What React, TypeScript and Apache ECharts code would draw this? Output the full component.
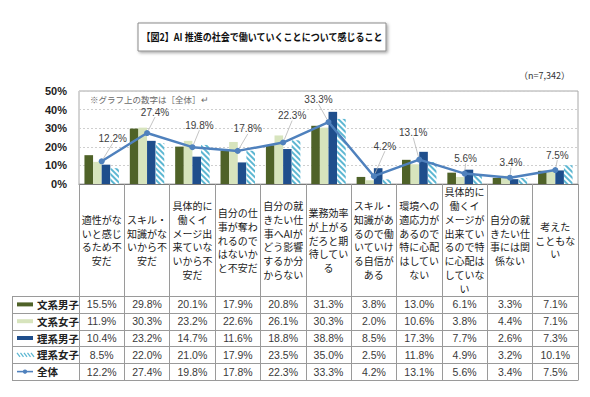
import React, { useEffect, useRef } from 'react';
import * as echarts from 'echarts';

// Category names, broken into lines as they appear under each column
const categories = [
  '適性がな\nいと感じ\nるため不\n安だ',
  'スキル・\n知識がな\nいから不\n安だ',
  '具体的に\n働くイ\nメージ出\n来ていな\nいから不\n安だ',
  '自分の仕\n事が奪わ\nれるので\nはないか\nと不安だ',
  '自分の就\nきたい仕\n事へAIが\nどう影響\nするか分\nからない',
  '業務効率\nが上がる\nだろと期\n待してい\nる',
  'スキル・\n知識があ\nるので働\nいていけ\nる自信が\nある',
  '環境への\n適応力が\nあるので\n特に心配\nはしてい\nない',
  '具体的に\n働くイ\nメージが\n出来てい\nるので特\nに心配は\nしていな\nい',
  '自分の就\nきたい仕\n事には関\n係ない',
  '考えた\nこともな\nい',
];

const seriesNames = ['文系男子', '文系女子', '理系男子', '理系女子', '全体'];

const bunkeiDanshi = [15.5, 29.8, 20.1, 17.9, 20.8, 31.3, 3.8, 13.0, 6.1, 3.3, 7.1];
const bunkeiJoshi = [11.9, 30.3, 23.2, 22.6, 26.1, 30.3, 2.0, 10.6, 3.8, 4.4, 7.1];
const rikeiDanshi = [10.4, 23.2, 14.7, 11.6, 18.8, 38.8, 8.5, 17.3, 7.7, 2.6, 7.3];
const rikeiJoshi = [8.5, 22.0, 21.0, 17.9, 23.5, 35.0, 2.5, 11.8, 4.9, 3.2, 10.1];
const zentai = [12.2, 27.4, 19.8, 17.8, 22.3, 33.3, 4.2, 13.1, 5.6, 3.4, 7.5];

const yMin = 0;
const yMax = 50;
const yStep = 10;

const titleText = '【図2】AI 推進の社会で働いていくことについて感じること';
const sampleText = '（n=7,342）';
const noteText = '※グラフ上の数字は［全体］↵';

// Offsets of the 全体 value labels from their default spot above each point
const labelShift: [number, number][] = [
  [11, -10], [8, -8], [7, -9], [10, -9], [9, -14], [-10, -10],
  [11, -17], [-6, -14], [1, -2], [1, -2], [2, -2],
];

const W = 590;
const H = 397;
const plotLeft = 79;
const plotRight = 578;
const plotTop = 91;
const axisY = 184;
const tableTop = 296;
const rowH = 16.8;
const tableLeft = 12;

const colors = {
  bunkeiDanshi: '#4f6228',
  bunkeiJoshi: '#d7e4bd',
  rikeiDanshi: '#1f4e8c',
  rikeiJoshi: '#5db7d2',
  zentai: '#4f81bd',
};

const CJK = '"Noto Sans CJK JP", sans-serif';
const NARROW = '"Liberation Sans Narrow", "Liberation Sans", sans-serif';

const tableRows = [bunkeiDanshi, bunkeiJoshi, rikeiDanshi, rikeiJoshi, zentai];

const hatchDecal = {
  symbol: 'rect',
  symbolSize: 1,
  color: colors.rikeiJoshi,
  dashArrayX: [1, 0],
  dashArrayY: [2, 2],
  rotation: Math.PI / 4,
};

// Key column on the left of the table: swatch + series name per row
function legendCells(): any[] {
  const out: any[] = [];
  const x0 = 17;
  const x1 = 33;
  seriesNames.forEach((name, r) => {
    const cy = tableTop + rowH * (r + 0.5);
    if (r === 0 || r === 1 || r === 2) {
      const fill = [colors.bunkeiDanshi, colors.bunkeiJoshi, colors.rikeiDanshi][r];
      out.push({
        type: 'rect',
        shape: { x: x0, y: cy - 2, width: x1 - x0, height: 4 },
        style: { fill },
        silent: true,
      });
    } else if (r === 3) {
      for (let k = 0; k < 5; k++) {
        const sx = x0 + k * 3.5;
        out.push({
          type: 'line',
          shape: { x1: sx, y1: cy - 2, x2: sx + 3, y2: cy + 2 },
          style: { stroke: colors.rikeiJoshi, lineWidth: 1.2 },
          silent: true,
        });
      }
    } else {
      out.push({
        type: 'line',
        shape: { x1: x0, y1: cy, x2: x1, y2: cy },
        style: { stroke: colors.zentai, lineWidth: 1.6 },
        silent: true,
      });
      out.push({
        type: 'circle',
        shape: { cx: (x0 + x1) / 2, cy, r: 2.2 },
        style: { fill: colors.zentai },
        silent: true,
      });
    }
    out.push({
      type: 'text',
      x: 37,
      y: cy,
      style: {
        text: name,
        align: 'left',
        verticalAlign: 'middle',
        fontSize: 10.5,
        fontWeight: 'bold',
        fill: '#222',
        fontFamily: CJK,
      },
      silent: true,
    });
  });
  return out;
}

export default function App() {
  const ref = useRef<HTMLDivElement>(null);

  useEffect(() => {
    if (!ref.current) return;
    const chart = echarts.init(ref.current, undefined, { renderer: 'svg' });

    const gridColor = '#9a9a9a';
    const tableBottom = Math.round(tableTop + rowH * tableRows.length) + 0.5;

    const valueAxes = tableRows.map((row, r) => ({
      type: 'category',
      gridIndex: 0,
      position: 'bottom',
      offset: tableTop - axisY + rowH * (r + 0.5),
      data: categories,
      axisLine: { show: false },
      axisTick: { show: false },
      splitLine: { show: false },
      axisLabel: {
        interval: 0,
        margin: 0,
        verticalAlign: 'middle',
        fontSize: 10.5,
        color: '#3a3a3a',
        fontFamily: NARROW,
        formatter: (_v: string, idx: number) => row[idx].toFixed(1) + '%',
      },
    }));

    const tableLines: any[] = [];
    for (let r = 0; r <= tableRows.length; r++) {
      const y = Math.round(tableTop + rowH * r) + 0.5;
      tableLines.push({
        type: 'line',
        shape: { x1: tableLeft, y1: y, x2: plotRight, y2: y },
        style: { stroke: gridColor, lineWidth: 1 },
        silent: true,
      });
    }
    tableLines.push({
      type: 'line',
      shape: { x1: tableLeft + 0.5, y1: tableTop + 0.5, x2: tableLeft + 0.5, y2: tableBottom },
      style: { stroke: gridColor, lineWidth: 1 },
      silent: true,
    });

    const option: any = {
      animation: false,
      grid: {
        left: plotLeft,
        right: W - plotRight,
        top: plotTop,
        bottom: H - axisY,
        show: true,
        borderColor: '#a8a8a8',
        borderWidth: 1,
      },
      xAxis: [
        {
          type: 'category',
          data: categories,
          axisLine: { show: true, lineStyle: { color: '#7a7a7a', width: 1 } },
          axisTick: {
            show: true,
            length: tableBottom - axisY,
            lineStyle: { color: gridColor, width: 1 },
          },
          axisLabel: {
            interval: 0,
            margin: (tableTop - axisY) / 2,
            verticalAlign: 'middle',
            fontSize: 10,
            lineHeight: 13.8,
            color: '#1a1a1a',
            fontFamily: CJK,
          },
        },
        ...valueAxes,
      ],
      yAxis: {
        type: 'value',
        min: yMin,
        max: yMax,
        interval: yStep,
        axisLine: { show: false },
        axisTick: { show: false },
        splitLine: { lineStyle: { color: '#cfcfcf', type: [2, 2] } },
        axisLabel: {
          formatter: '{value}%',
          margin: 12,
          fontSize: 11,
          fontWeight: 'bold',
          color: '#222',
          fontFamily: '"Liberation Sans", Arial, sans-serif',
        },
      },
      series: [
        {
          name: seriesNames[0],
          type: 'bar',
          data: bunkeiDanshi,
          barGap: '0%',
          barCategoryGap: '24%',
          itemStyle: { color: colors.bunkeiDanshi },
        },
        {
          name: seriesNames[1],
          type: 'bar',
          data: bunkeiJoshi,
          itemStyle: { color: colors.bunkeiJoshi },
        },
        {
          name: seriesNames[2],
          type: 'bar',
          data: rikeiDanshi,
          itemStyle: { color: colors.rikeiDanshi },
        },
        {
          name: seriesNames[3],
          type: 'bar',
          data: rikeiJoshi,
          itemStyle: { color: '#ffffff', decal: hatchDecal },
        },
        {
          name: seriesNames[4],
          type: 'line',
          data: zentai,
          z: 5,
          symbol: 'circle',
          symbolSize: 6,
          itemStyle: { color: colors.zentai },
          lineStyle: { color: colors.zentai, width: 2.5 },
          label: {
            show: true,
            position: 'top',
            formatter: (p: any) => p.value.toFixed(1) + '%',
            fontSize: 10,
            color: '#404040',
            fontFamily: '"Liberation Sans", Arial, sans-serif',
          },
          labelLine: {
            show: true,
            lineStyle: { color: '#b5b5b5', width: 0.8 },
          },
          labelLayout: (params: any) => {
            const s = labelShift[params.dataIndex] || [0, 0];
            return { dx: s[0], dy: s[1] };
          },
        },
      ],
      graphic: [
        {
          type: 'rect',
          shape: { x: 138, y: 23, width: 248, height: 28 },
          style: {
            fill: '#ffffff',
            stroke: '#8a8a8a',
            lineWidth: 1,
            shadowBlur: 3,
            shadowColor: 'rgba(0,0,0,0.35)',
            shadowOffsetX: 1.5,
            shadowOffsetY: 1.5,
          },
          silent: true,
        },
        {
          type: 'text',
          x: 262,
          y: 37,
          scaleX: 0.86,
          style: {
            text: titleText,
            x: 0,
            y: 0,
            align: 'center',
            verticalAlign: 'middle',
            fontSize: 10.5,
            fontWeight: 'bold',
            fill: '#111',
            fontFamily: CJK,
          },
          silent: true,
        },
        {
          type: 'text',
          x: 570,
          y: 75,
          style: {
            text: sampleText,
            align: 'right',
            verticalAlign: 'middle',
            fontSize: 9,
            fill: '#333',
            fontFamily: CJK,
          },
          silent: true,
        },
        {
          type: 'text',
          x: 90,
          y: 98.5,
          style: {
            text: noteText,
            align: 'left',
            verticalAlign: 'middle',
            fontSize: 8.5,
            fill: '#6a6a6a',
            fontFamily: CJK,
          },
          silent: true,
        },
        ...tableLines,
        ...legendCells(),
      ],
    };

    chart.setOption(option);
    return () => chart.dispose();
  }, []);

  return (
    <div
      ref={ref}
      style={{ position: 'fixed', left: 0, top: 0, width: W, height: H, background: '#fff' }}
    />
  );
}
